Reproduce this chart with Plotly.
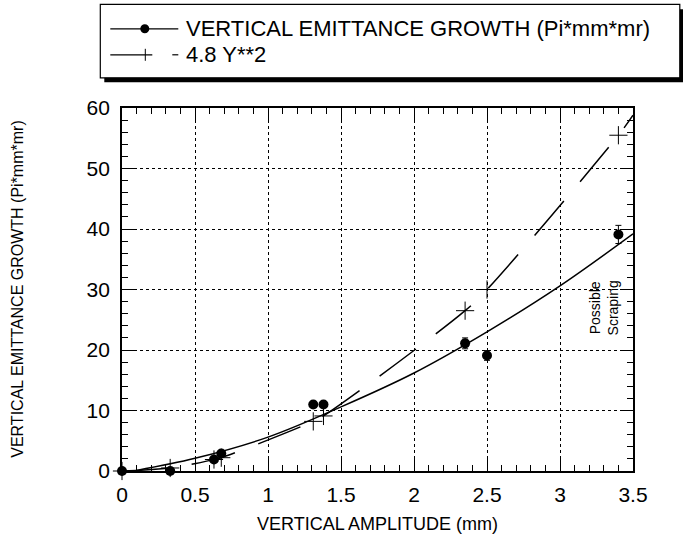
import plotly.graph_objects as go

# ---- data ----
amp_mm = [0, 0.33, 0.63, 0.68, 1.31, 1.38, 2.35, 2.5, 3.4]
growth = [0, 0, 1.9, 2.9, 11.0, 11.0, 21.1, 19.1, 39.1]
growth_err = [0.2, 0.2, 0.4, 0.4, 0.5, 0.5, 0.9, 0.8, 1.5]

quad_y = [0, 0.5, 1.9, 2.2, 8.2, 9.1, 26.5, 30.0, 55.5]
quad_line_x = [0, 0.33, 0.63, 0.68, 1.31, 1.38, 2.35, 2.5, 3.4, 3.5]
quad_line_y = [0, 0.5, 1.9, 2.2, 8.2, 9.1, 26.5, 30.0, 55.5, 58.8]

fit_x = [0.1, 0.5, 1.0, 1.5, 2.0, 2.5, 3.0, 3.5]
fit_y = [0.1, 2.1, 5.6, 10.6, 16.2, 23.0, 30.6, 39.2]

x_ticks = [0, 0.5, 1, 1.5, 2, 2.5, 3, 3.5]
x_ticklabels = ["0", "0.5", "1", "1.5", "2", "2.5", "3", "3.5"]
y_ticks = [0, 10, 20, 30, 40, 50, 60]

legend_labels = ["VERTICAL EMITTANCE GROWTH (Pi*mm*mr)", "4.8 Y**2"]
FONT = "Liberation Sans, Arial, Helvetica, sans-serif"

fig = go.Figure()

# fit curve (solid)
fig.add_trace(go.Scatter(x=fit_x, y=fit_y, mode="lines",
                         line=dict(color="black", width=1.5, shape="spline"),
                         showlegend=False, hoverinfo="skip"))
# 4.8 Y**2 dashed curve
fig.add_trace(go.Scatter(x=quad_line_x, y=quad_line_y, mode="lines",
                         line=dict(color="black", width=1.5, shape="spline",
                                   dash="45px,25px"),
                         showlegend=False, hoverinfo="skip"))
# plus markers
fig.add_trace(go.Scatter(x=amp_mm, y=quad_y, mode="markers",
                         marker=dict(symbol="cross-thin", size=13,
                                     line=dict(color="black", width=1)),
                         showlegend=False, cliponaxis=False))
# data points
fig.add_trace(go.Scatter(x=amp_mm, y=growth, mode="markers",
                         marker=dict(symbol="circle", size=10, color="black"),
                         error_y=dict(type="data", array=growth_err, color="black",
                                      thickness=1, width=3),
                         showlegend=False, cliponaxis=False))

axis_common = dict(showline=True, linecolor="black", linewidth=1.8, mirror="ticks",
                   ticks="inside", ticklen=12, tickwidth=1.2, tickcolor="black",
                   showgrid=True, gridcolor="black", gridwidth=1, griddash="dot",
                   zeroline=False,
                   tickfont=dict(family=FONT, size=21, color="black"))

fig.update_xaxes(range=[0, 3.5], tickvals=x_ticks, ticktext=x_ticklabels,
                 minor=dict(ticks="inside", ticklen=6, dtick=0.1, tickcolor="black",
                            tickwidth=1.2, showgrid=False),
                 ticklabelstandoff=4,
                 **axis_common)
fig.update_yaxes(range=[0, 60], tickvals=y_ticks,
                 minor=dict(ticks="inside", ticklen=6, dtick=2, tickcolor="black",
                            tickwidth=1.2, showgrid=False),
                 ticklabelstandoff=6,
                 **axis_common)

# axis titles
fig.add_annotation(text="VERTICAL AMPLITUDE (mm)", xref="paper", yref="paper",
                   x=0.5, y=-0.145, showarrow=False, yanchor="middle",
                   font=dict(family=FONT, size=18, color="black"))
fig.add_annotation(text="VERTICAL EMITTANCE GROWTH (Pi*mm*mr)", xref="paper", yref="paper",
                   x=-0.205, y=0.5, showarrow=False, textangle=-90, xanchor="center",
                   font=dict(family=FONT, size=16, color="black"))

# side note
fig.add_annotation(text="Possible<br>Scraping", x=3.3, y=27, xref="x", yref="y",
                   showarrow=False, textangle=-90,
                   font=dict(family=FONT, size=14, color="black"))

# ---- manual legend (pixel -> paper helpers) ----
L, R, T, B = 121.7, 632.7, 107.7, 470.7
W, H = R - L, B - T
def px(xp):
    return (xp - L) / W
def py(yp):
    return (B - yp) / H

row_y = [28.5, 54.5]
shapes = []
# shadow
shapes.append(dict(type="rect", xref="paper", yref="paper",
                   x0=px(104), x1=px(683), y0=py(82), y1=py(9),
                   fillcolor="black", line=dict(width=0)))
# box
shapes.append(dict(type="rect", xref="paper", yref="paper",
                   x0=px(100), x1=px(679.5), y0=py(77.5), y1=py(4),
                   fillcolor="white", line=dict(color="black", width=1.2)))
# row 1 line
shapes.append(dict(type="line", xref="paper", yref="paper",
                   x0=px(110), x1=px(178), y0=py(row_y[0]), y1=py(row_y[0]),
                   line=dict(color="black", width=1.2)))
shapes.append(dict(type="circle", xref="paper", yref="paper",
                   x0=px(140), x1=px(149), y0=py(row_y[0] - 4.5), y1=py(row_y[0] + 4.5),
                   fillcolor="black", line=dict(color="black", width=0)))
# row 2 dashed sample
shapes.append(dict(type="line", xref="paper", yref="paper",
                   x0=px(110), x1=px(152), y0=py(row_y[1]), y1=py(row_y[1]),
                   line=dict(color="black", width=1.2)))
shapes.append(dict(type="line", xref="paper", yref="paper",
                   x0=px(172), x1=px(178), y0=py(row_y[1]), y1=py(row_y[1]),
                   line=dict(color="black", width=1.2)))
shapes.append(dict(type="line", xref="paper", yref="paper",
                   x0=px(145), x1=px(145), y0=py(row_y[1] - 6), y1=py(row_y[1] + 6),
                   line=dict(color="black", width=1)))
fig.update_layout(shapes=shapes)

for lab, yp in zip(legend_labels, row_y):
    fig.add_annotation(text=lab, xref="paper", yref="paper", x=px(184), y=py(yp),
                       xanchor="left", yanchor="middle", showarrow=False,
                       font=dict(family=FONT, size=22, color="black"))

fig.update_layout(width=683, height=535,
                  margin=dict(l=L, r=683 - R, t=T, b=535 - B),
                  plot_bgcolor="white", paper_bgcolor="white",
                  showlegend=False)

fig.write_html("out.html")
